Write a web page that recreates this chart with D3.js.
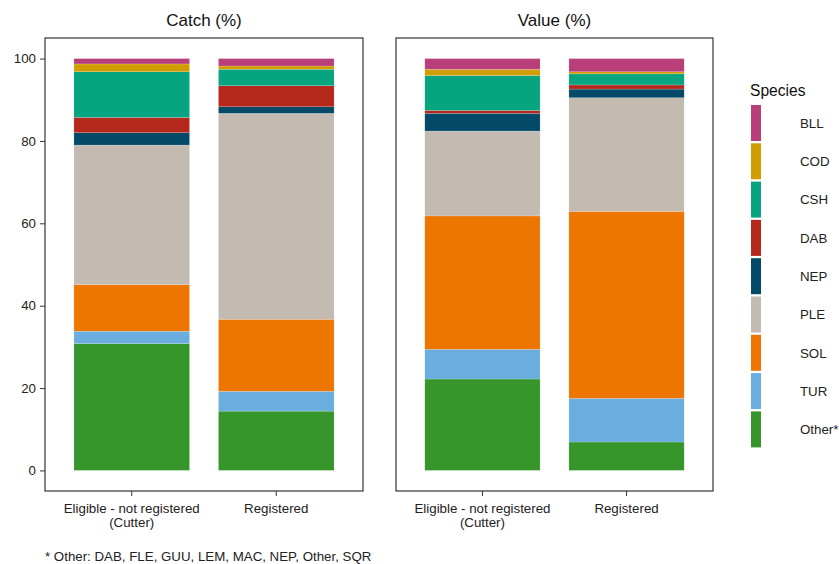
<!DOCTYPE html>
<html>
<head>
<meta charset="utf-8">
<script src="https://cdn.jsdelivr.net/npm/d3@7"></script>
<style>
  body { margin: 0; background: #fff; }
  svg { font-family: "Liberation Sans", Arial, sans-serif; }
</style>
</head>
<body>
<svg id="chart" width="839" height="564"></svg>
<script>
// species, listed bottom of stack to top
var species = ["Other*", "TUR", "SOL", "PLE", "NEP", "DAB", "CSH", "COD", "BLL"];
var speciesColors = ["#37962b", "#69aedf", "#ec7600", "#c3bbb1", "#034a69", "#b5281c", "#07a57f", "#d19d00", "#b83f7a"];
var groups = ["Eligible - not registered\n(Cutter)", "Registered"];

// percentages per group, same order as species
var catchEligible = [30.8, 3.0, 11.3, 33.9, 3.0, 3.7, 11.1, 1.9, 1.3];
var catchRegistered = [14.4, 4.8, 17.5, 50.0, 1.6, 5.1, 4.0, 0.8, 1.8];
var valueEligible = [22.2, 7.2, 32.4, 20.6, 4.3, 0.7, 8.5, 1.5, 2.6];
var valueRegistered = [6.9, 10.6, 45.4, 27.6, 2.1, 1.0, 2.7, 0.5, 3.2];

var yTicks = [0, 20, 40, 60, 80, 100];
var footnote = "* Other: DAB, FLE, GUU, LEM, MAC, NEP, Other, SQR";

function drawChart() {
  var svg = d3.select("#chart");
  var fs = 13.3; // small text size

  var color = d3.scaleOrdinal().domain(species).range(speciesColors);

  function makeRows(a, b) {
    return groups.map(function(g, i) {
      var vals = i === 0 ? a : b;
      var row = { group: g };
      species.forEach(function(s, j) { row[s] = vals[j]; });
      return row;
    });
  }

  var panels = [
    { title: "Catch (%)", x0: 45, x1: 363, rows: makeRows(catchEligible, catchRegistered), yaxis: true },
    { title: "Value (%)", x0: 396, x1: 713, rows: makeRows(valueEligible, valueRegistered), yaxis: false }
  ];

  var panelTop = 38, panelBottom = 491;
  var y = d3.scaleLinear().domain([-5, 105]).range([panelBottom, panelTop]);

  var stack = d3.stack().keys(species);

  panels.forEach(function(p) {
    var x = d3.scaleBand()
      .domain(groups)
      .range([p.x0, p.x1])
      .paddingInner(0.2)
      .paddingOuter(0.2);

    var g = svg.append("g");

    var series = stack(p.rows);

    g.selectAll("g.layer")
      .data(series)
      .enter()
      .append("g")
      .attr("class", "layer")
      .attr("fill", function(d) { return color(d.key); })
      .selectAll("rect")
      .data(function(d) { return d; })
      .enter()
      .append("rect")
      .attr("x", function(d) { return x(d.data.group); })
      .attr("width", x.bandwidth())
      .attr("y", function(d) { return y(d[1]); })
      .attr("height", function(d) { return y(d[0]) - y(d[1]); })
      .attr("stroke", "rgba(255,255,255,0.35)")
      .attr("stroke-width", 0.5);

    // panel border
    g.append("rect")
      .attr("x", p.x0)
      .attr("y", panelTop)
      .attr("width", p.x1 - p.x0)
      .attr("height", panelBottom - panelTop)
      .attr("fill", "none")
      .attr("stroke", "#222")
      .attr("stroke-width", 1.1);

    // title
    g.append("text")
      .attr("x", (p.x0 + p.x1) / 2)
      .attr("y", 26)
      .attr("text-anchor", "middle")
      .attr("font-size", 17)
      .attr("fill", "#111")
      .text(p.title);

    // x axis
    var xAxis = g.append("g")
      .attr("transform", "translate(0," + panelBottom + ")")
      .call(d3.axisBottom(x).tickSize(5).tickFormat(""));
    xAxis.select(".domain").remove();
    xAxis.selectAll("line").attr("stroke", "#333");

    groups.forEach(function(grp) {
      var lines = grp.split("\n");
      var t = g.append("text")
        .attr("x", x(grp) + x.bandwidth() / 2)
        .attr("y", 513)
        .attr("text-anchor", "middle")
        .attr("font-size", fs)
        .attr("fill", "#222");
      lines.forEach(function(l, i) {
        t.append("tspan")
          .attr("x", x(grp) + x.bandwidth() / 2)
          .attr("dy", i === 0 ? 0 : 14)
          .text(l);
      });
    });

    if (p.yaxis) {
      var yAxis = g.append("g")
        .attr("transform", "translate(" + p.x0 + ",0)")
        .call(d3.axisLeft(y).tickValues(yTicks).tickSize(5).tickPadding(4));
      yAxis.select(".domain").remove();
      yAxis.selectAll("line").attr("stroke", "#333");
      yAxis.selectAll("text")
        .attr("font-size", fs)
        .attr("fill", "#222")
        .attr("font-family", "Liberation Sans, Arial, sans-serif");
    }
  });

  // legend
  var legend = svg.append("g");
  legend.append("text")
    .attr("x", 750)
    .attr("y", 96)
    .attr("font-size", 15.6)
    .attr("fill", "#111")
    .text("Species");

  var legendOrder = species.slice().reverse();
  var keyH = 36, keyStep = 38.3, keyTop = 105;

  legend.selectAll("rect.key")
    .data(legendOrder)
    .enter()
    .append("rect")
    .attr("class", "key")
    .attr("x", 751)
    .attr("width", 10)
    .attr("y", function(d, i) { return keyTop + i * keyStep; })
    .attr("height", keyH)
    .attr("fill", function(d) { return color(d); });

  legend.selectAll("text.lab")
    .data(legendOrder)
    .enter()
    .append("text")
    .attr("class", "lab")
    .attr("x", 800)
    .attr("y", function(d, i) { return keyTop + i * keyStep + keyH / 2 + 4.7; })
    .attr("font-size", fs)
    .attr("fill", "#222")
    .text(function(d) { return d; });

  // footnote
  svg.append("text")
    .attr("x", 45)
    .attr("y", 561)
    .attr("font-size", fs)
    .attr("fill", "#222")
    .text(footnote);
}

drawChart();
</script>
</body>
</html>
